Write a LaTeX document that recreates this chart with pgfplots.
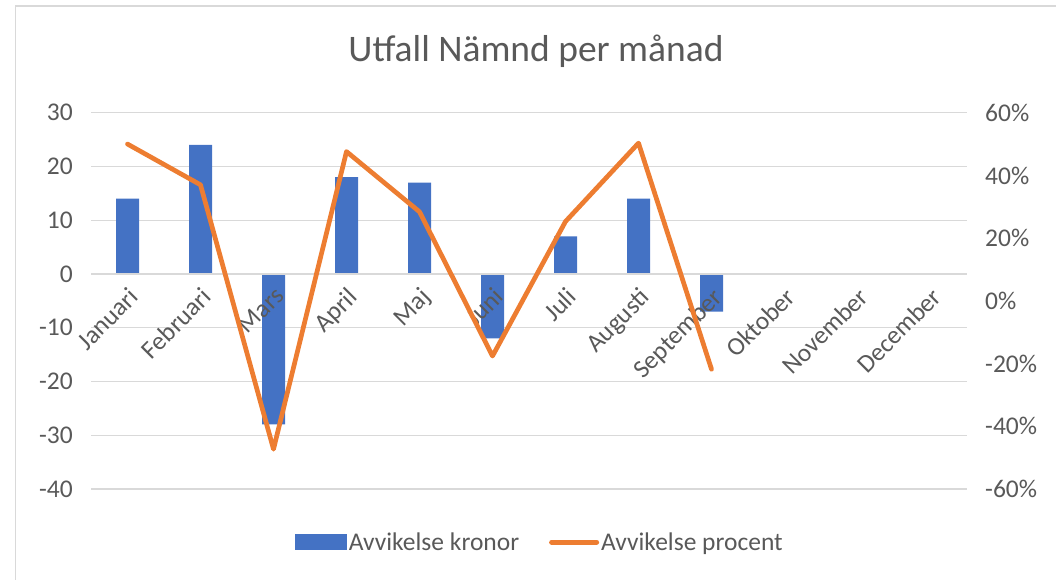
\documentclass[border=0pt]{standalone}
\usepackage{fontspec}
\setmainfont{Carlito}
\usepackage{pgfplots}
\pgfplotsset{compat=1.18}
\definecolor{barblue}{HTML}{4472C4}
\definecolor{lineor}{HTML}{ED7D31}
\definecolor{txt}{HTML}{595959}
\definecolor{gridc}{HTML}{D9D9D9}
\begin{document}
\begin{tikzpicture}
\begin{axis}[
  set layers,
  scale only axis, width=876pt, height=376.3pt,
  xmin=-0.5, xmax=11.5, ymin=-40, ymax=30,
  ytick={-40,-30,...,30},
  xtick={0,...,11},
  xticklabels={Januari,Februari,Mars,April,Maj,Juni,Juli,Augusti,September,Oktober,November,December},
  axis x line*=middle, axis y line*=left,
  axis line style={draw=none},
  x axis line style={-, draw=gridc, line width=1.3pt},
  major tick length=0pt,
  hide obscured x ticks=false, hide obscured y ticks=false,
  ymajorgrids, grid style={gridc, line width=1.3pt},
  tick label style={font=\fontsize{25.5}{30}\selectfont, text=txt},
  /pgf/number format/assume math mode=true,
  y tick label style={inner sep=0pt, xshift=-18pt, anchor=east},
  x tick label style={yshift=-12pt, rotate=45, anchor=north east, inner sep=0pt},
  title={Utfall Nämnd per månad},
  title style={at={(0.508,1.119)}, anchor=base, font=\fontsize{37.5}{42}\selectfont, text=txt},
]
\addplot[ybar, bar width=23pt, bar shift=0pt, fill=barblue, draw=none, on layer=axis ticks]
  coordinates {(0,14) (1,24) (2,-28) (3,18) (4,17) (5,-12) (6,7) (7,14) (8,-7)};
\end{axis}
\begin{axis}[
  set layers,
  scale only axis, width=876pt, height=376.3pt,
  xmin=-0.5, xmax=11.5, ymin=-60, ymax=60,
  hide x axis, axis y line*=right, axis line style={draw=none}, major tick length=0pt,
  ytick={-60,-40,...,60},
  /pgf/number format/assume math mode=true,
  yticklabel={\pgfmathprintnumber{\tick}\%},
  y tick label style={inner sep=0pt, xshift=18pt, anchor=west, font=\fontsize{25.5}{30}\selectfont, text=txt},
  legend style={at={(0.5126,-0.141)}, anchor=center, draw=none, fill=none,
    font=\fontsize{25.5}{30}\selectfont, text=txt,
    /tikz/every even column/.append style={column sep=28pt}},
  legend columns=2, legend cell align=left,
  every axis plot/.append style={on layer=axis foreground},
]
\addlegendimage{legend image code/.code={\fill[barblue] (0pt,-7.5pt) rectangle (51pt,7.5pt);}}
\addlegendentry{Avvikelse kronor}
\addplot[lineor, line width=4.7pt, line join=round, line cap=round,
  legend image code/.code={\draw[lineor, line width=5pt, line cap=round] (2pt,0pt) -- (47pt,0pt);}]
  coordinates {(0,50) (1,37) (2,-47.3) (3,47.6) (4,28.4) (5,-17.6) (6,25.3) (7,50.3) (8,-21.8)};
\addlegendentry{Avvikelse procent}
\end{axis}
\draw[gridc, line width=1.3pt] (-75.3pt,-91pt) -- (-75.3pt,483pt) -- (965pt,483pt);
\pgfresetboundingbox
\path (-91pt,-91pt) rectangle (965pt,489pt);
\end{tikzpicture}
\end{document}
